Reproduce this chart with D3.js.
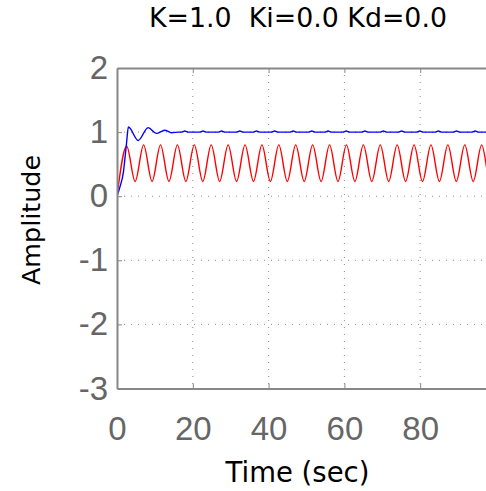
<!DOCTYPE html>
<html>
<head>
<meta charset="utf-8">
<script src="https://cdn.jsdelivr.net/npm/d3@7"></script>
<style>
  html, body { margin: 0; padding: 0; background: #fff; }
  svg { display: block; }
  text { font-family: "DejaVu Sans", sans-serif; }
</style>
</head>
<body>
<svg id="chart" width="486" height="491"></svg>
<script>
// ---- data ----
const titleText = "K=1.0  Ki=0.0 Kd=0.0";
const xLabel = "Time (sec)";
const yLabel = "Amplitude";
const xTicks = [0, 20, 40, 60, 80];
const yTicks = [-3, -2, -1, 0, 1, 2];
const xDomain = [0, 100];
const yDomain = [-3, 2];

// blue: closed-loop step response (overshoot, settles at 1 with small ripple)
const blueTime = [0, 0.8, 1.7, 2.1, 2.55, 3.0, 5.6, 8.2, 10.4, 12.6, 14.4, 16.2,
  17.0, 17.9, 18.8, 21.8, 22.7, 23.6, 26.7, 27.6, 28.5, 31.5, 32.4, 33.3,
  35.9, 36.8, 37.7, 40.7, 41.6, 42.5, 45.6, 46.5, 47.4, 50.5, 51.4, 52.3,
  54.8, 55.7, 56.6, 59.6, 60.5, 61.4, 64.5, 65.4, 66.3, 69.4, 70.3, 71.2,
  74.2, 75.1, 76.0, 79.0, 79.9, 80.8, 83.9, 84.8, 85.7, 88.7, 89.6, 90.5,
  93.6, 94.5, 95.4, 98.4, 99.3, 100];
const blueValue = [0, 0.15, 0.38, 0.59, 0.85, 1.08, 0.87, 1.07, 0.98, 1.03, 0.99, 1.0,
  1.0, 1.016, 1.0, 1.0, 1.016, 1.0, 1.0, 1.016, 1.0, 1.0, 1.016, 1.0,
  1.0, 1.016, 1.0, 1.0, 1.016, 1.0, 1.0, 1.016, 1.0, 1.0, 1.016, 1.0,
  1.0, 1.016, 1.0, 1.0, 1.016, 1.0, 1.0, 1.016, 1.0, 1.0, 1.016, 1.0,
  1.0, 1.016, 1.0, 1.0, 1.016, 1.0, 1.0, 1.016, 1.0, 1.0, 1.016, 1.0,
  1.0, 1.016, 1.0, 1.0, 1.016, 1.01];

// red: sustained oscillation (peaks and troughs)
const redTime = [0, 2.56, 4.79, 7.02, 9.25, 11.48, 13.71, 15.94, 18.17, 20.40, 22.63,
  24.86, 27.09, 29.32, 31.55, 33.78, 36.01, 38.24, 40.47, 42.70, 44.93,
  47.16, 49.39, 51.62, 53.85, 56.08, 58.31, 60.54, 62.77, 65.00, 67.23,
  69.46, 71.69, 73.92, 76.15, 78.38, 80.61, 82.84, 85.07, 87.30, 89.53,
  91.76, 93.99, 96.22, 98.45, 100];
const redValue = [0, 0.78, 0.23, 0.80, 0.23, 0.80, 0.23, 0.80, 0.23, 0.80, 0.23,
  0.80, 0.23, 0.80, 0.23, 0.80, 0.23, 0.80, 0.23, 0.80, 0.23,
  0.80, 0.23, 0.80, 0.23, 0.80, 0.23, 0.80, 0.23, 0.80, 0.23,
  0.80, 0.23, 0.80, 0.23, 0.80, 0.23, 0.80, 0.23, 0.80, 0.23,
  0.80, 0.23, 0.80, 0.23, 0.67];

// ---- layout ----
const svg = d3.select("#chart");
const mLeft = 117, mRight = 496, mTop = 68, mBottom = 388.5;
const x = d3.scaleLinear().domain(xDomain).range([mLeft, mRight]);
const y = d3.scaleLinear().domain(yDomain).range([mBottom, mTop]);
const axisColor = "#888888";
const labelColor = "#666666";
const fmt = d => String(d);

svg.append("defs").append("clipPath").attr("id", "clip")
  .append("rect").attr("x", mLeft).attr("y", mTop).attr("width", mRight - mLeft).attr("height", mBottom - mTop);

// grid lines (dotted)
const grid = svg.append("g");
grid.selectAll("line.vx").data(xTicks.filter(d => d > xDomain[0] && d < xDomain[1]))
  .join("line")
  .attr("x1", d => x(d)).attr("x2", d => x(d))
  .attr("y1", mTop).attr("y2", mBottom)
  .attr("stroke", "#8a8a8a").attr("stroke-width", 1)
  .attr("stroke-dasharray", "1,6");
grid.selectAll("line.hy").data(yTicks.filter(d => d > yDomain[0] && d < yDomain[1]))
  .join("line")
  .attr("x1", mLeft).attr("x2", mRight)
  .attr("y1", d => y(d)).attr("y2", d => y(d))
  .attr("stroke", "#8a8a8a").attr("stroke-width", 1)
  .attr("stroke-dasharray", "1,6");

// series
const plot = svg.append("g").attr("clip-path", "url(#clip)");
const redPts = redTime.map((t, i) => [t, redValue[i]]);
const bluePts = blueTime.map((t, i) => [t, blueValue[i]]);
const line = d3.line().x(d => x(d[0])).y(d => y(d[1])).curve(d3.curveMonotoneX);
plot.append("path").datum(redPts).attr("d", line)
  .attr("fill", "none").attr("stroke", "#ff0000").attr("stroke-width", 1.4);
plot.append("path").datum(bluePts).attr("d", line)
  .attr("fill", "none").attr("stroke", "#0000ff").attr("stroke-width", 1.4);

// axes
const xAxis = d3.axisBottom(x).tickValues(xTicks).tickFormat(fmt)
  .tickSizeInner(-5).tickSizeOuter(0).tickPadding(28);
const yAxis = d3.axisLeft(y).tickValues(yTicks).tickFormat(fmt)
  .tickSizeInner(-5).tickSizeOuter(0).tickPadding(9);

const gx = svg.append("g").attr("transform", `translate(0,${mBottom})`).call(xAxis);
const gy = svg.append("g").attr("transform", `translate(${mLeft},0)`).call(yAxis);
[gx, gy].forEach(g => {
  g.select(".domain").attr("stroke", axisColor).attr("stroke-width", 2);
  g.selectAll(".tick line").attr("stroke", axisColor).attr("stroke-width", 1);
  g.selectAll(".tick text").attr("fill", labelColor)
    .style("font-family", "'Liberation Sans', Arial, sans-serif").style("font-size", "33px");
});
// top border with inward ticks
const topAxis = d3.axisTop(x).tickValues(xTicks).tickFormat("")
  .tickSizeInner(-5).tickSizeOuter(0);
const gt = svg.append("g").attr("transform", `translate(0,${mTop})`).call(topAxis);
gt.select(".domain").attr("stroke", axisColor).attr("stroke-width", 2);
gt.selectAll(".tick line").attr("stroke", axisColor).attr("stroke-width", 1);

// titles
svg.append("text").attr("x", 298).attr("y", 27).attr("text-anchor", "middle")
  .style("font-size", "26.8px").style("white-space", "pre").attr("xml:space", "preserve")
  .attr("fill", "#000").text(titleText);
svg.append("text").attr("x", 297.5).attr("y", 482).attr("text-anchor", "middle")
  .style("font-size", "27.5px").attr("fill", "#000").text(xLabel);
svg.append("text").attr("transform", "translate(40,220) rotate(-90)").attr("text-anchor", "middle")
  .style("font-size", "25.4px").attr("fill", "#000").text(yLabel);
</script>
</body>
</html>
